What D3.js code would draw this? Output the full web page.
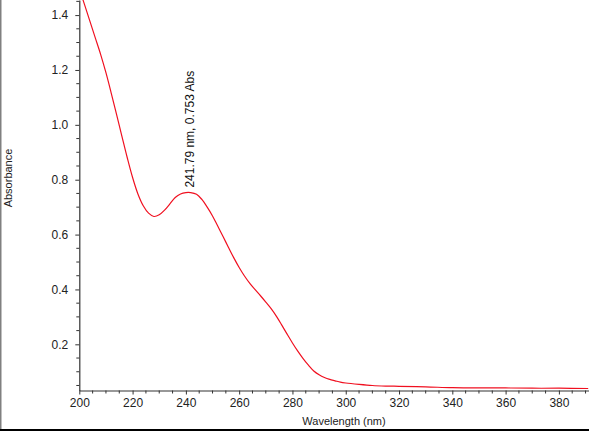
<!DOCTYPE html>
<html>
<head>
<meta charset="utf-8">
<script src="https://cdn.jsdelivr.net/npm/d3@7"></script>
<style>
  html, body { margin: 0; padding: 0; background: #fff; }
  svg { display: block; }
  text { font-family: "Liberation Sans", Arial, sans-serif; }
</style>
</head>
<body>
<script>
// ---- Data ----
const wavelength = [200, 202, 204, 206, 208, 210, 212, 214, 216, 218, 220, 222, 224, 226, 228, 230, 232, 234, 236, 238, 240, 241.79, 244, 246, 248, 250, 252, 254, 256, 258, 260, 262, 264, 266, 268, 270, 272, 274, 276, 278, 280, 282, 284, 286, 288, 290, 292, 294, 296, 298, 300, 305, 310, 315, 320, 330, 340, 350, 360, 370, 380, 391];
const absorbance = [1.497, 1.437, 1.377, 1.317, 1.257, 1.190, 1.115, 1.037, 0.958, 0.880, 0.808, 0.748, 0.705, 0.678, 0.666, 0.672, 0.689, 0.712, 0.735, 0.748, 0.753, 0.753, 0.747, 0.728, 0.700, 0.668, 0.630, 0.592, 0.553, 0.515, 0.480, 0.449, 0.422, 0.399, 0.377, 0.354, 0.330, 0.302, 0.270, 0.237, 0.205, 0.175, 0.148, 0.124, 0.103, 0.089, 0.079, 0.072, 0.067, 0.062, 0.059, 0.054, 0.050, 0.048, 0.047, 0.045, 0.042, 0.041, 0.041, 0.040, 0.040, 0.039];
const xTickValues = [200, 220, 240, 260, 280, 300, 320, 340, 360, 380];
const yTickValues = [0.2, 0.4, 0.6, 0.8, 1.0, 1.2, 1.4];
const peakLabel = "241.79 nm, 0.753 Abs";
const peakNm = 241.79, peakAbs = 0.753;
const xTitle = "Wavelength (nm)";
const yTitle = "Absorbance";

// ---- Layout ----
const W = 589, H = 431;
const x0 = 79.3, y0 = 390.5;
const x = d3.scaleLinear().domain([200, 391.3]).range([x0, W]);
const y = d3.scaleLinear().domain([0.0317, 1.455]).range([y0, 0]);

const svg = d3.select("body").append("svg").attr("width", W).attr("height", H);

// frame borders
svg.append("rect").attr("x", 0).attr("y", 0).attr("width", 1.5).attr("height", H).attr("fill", "#808080");
svg.append("rect").attr("x", 0).attr("y", 429).attr("width", W).attr("height", 2).attr("fill", "#000");

svg.append("defs").append("clipPath").attr("id", "clip")
  .append("rect").attr("x", x0).attr("y", 0).attr("width", W - x0).attr("height", y0);

const axisColor = "#333";

// minor ticks
const xMinor = d3.range(200, 392, 5).filter(v => v % 20 !== 0);
const yMinor = d3.range(0.05, 1.46, 0.05).filter(v => Math.abs(v * 5 - Math.round(v * 5)) > 1e-6);

const gx = svg.append("g").attr("transform", `translate(0,${y0})`);
gx.call(d3.axisBottom(x).tickValues(xTickValues).tickFormat(d3.format("d")).tickSize(4).tickPadding(4).tickSizeOuter(0));
gx.append("g").selectAll("line").data(xMinor).join("line")
  .attr("x1", d => x(d)).attr("x2", d => x(d)).attr("y1", 0).attr("y2", 3)
  .attr("stroke", axisColor);

const gy = svg.append("g").attr("transform", `translate(${x0},0)`);
gy.call(d3.axisLeft(y).tickValues(yTickValues).tickFormat(d3.format(".1f")).tickSize(4).tickPadding(7).tickSizeOuter(0));
gy.append("g").selectAll("line").data(yMinor).join("line")
  .attr("y1", d => y(d)).attr("y2", d => y(d)).attr("x1", 0).attr("x2", -3)
  .attr("stroke", axisColor);

[gx, gy].forEach(g => {
  g.selectAll(".domain").attr("stroke", axisColor).attr("stroke-width", 1.2);
  g.selectAll(".tick line").attr("stroke", axisColor);
  g.selectAll(".tick text").attr("fill", "#222").style("font-size", "12px")
    .style("font-family", '"Liberation Sans", Arial, sans-serif');
});

// curve
const data = wavelength.map((w, i) => ({ w, a: absorbance[i] }));
const line = d3.line().x(d => x(d.w)).y(d => y(d.a)).curve(d3.curveCatmullRom.alpha(0.5));
svg.append("path").datum(data).attr("clip-path", "url(#clip)")
  .attr("d", line).attr("fill", "none").attr("stroke", "#f01020").attr("stroke-width", 1.2);

// peak annotation
svg.append("text")
  .attr("transform", `translate(${x(peakNm) + 3.8},${y(peakAbs) - 5}) rotate(-90)`)
  .attr("text-anchor", "start").attr("fill", "#111").style("font-size", "12px")
  .text(peakLabel);

// axis titles
svg.append("text").attr("x", 344).attr("y", 425).attr("text-anchor", "middle")
  .attr("fill", "#222").style("font-size", "11px").text(xTitle);
svg.append("text").attr("transform", `translate(11.5,178) rotate(-90)`).attr("text-anchor", "middle")
  .attr("fill", "#222").style("font-size", "11px").text(yTitle);
</script>
</body>
</html>
